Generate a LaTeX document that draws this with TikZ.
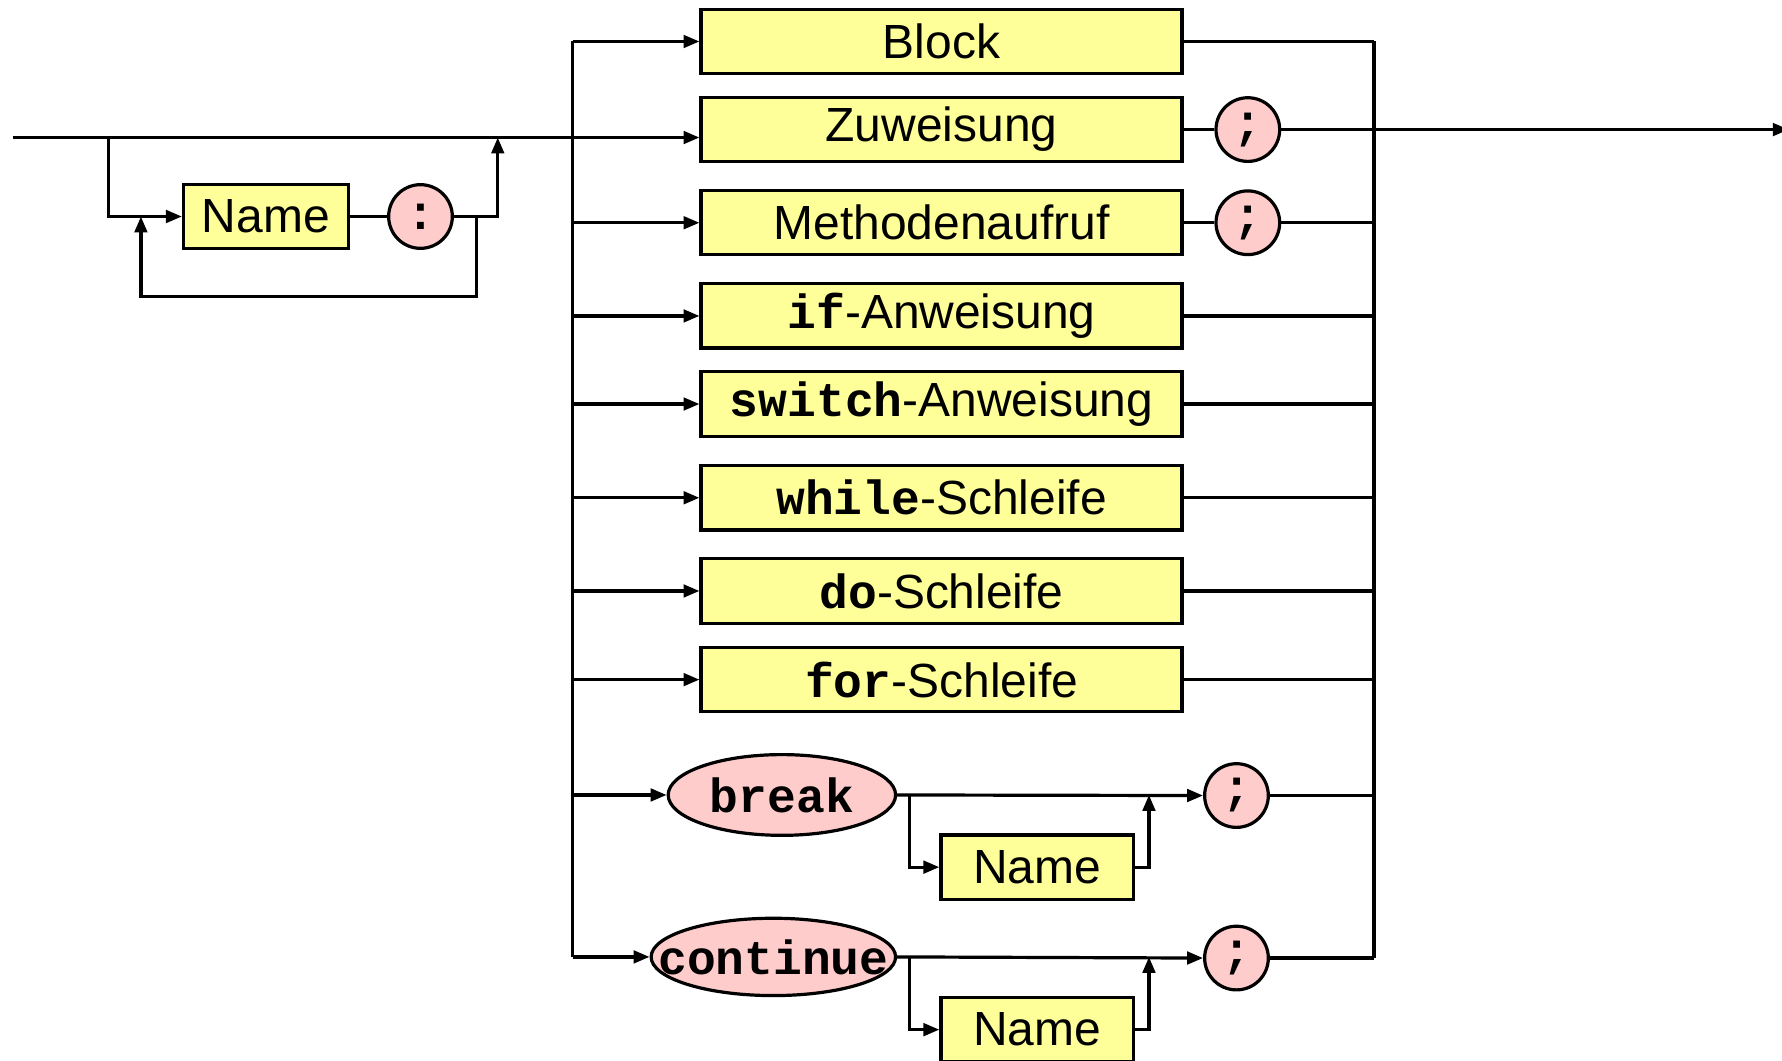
\documentclass[tikz,border=0pt]{standalone}
\usepackage{fontspec}
\setmainfont{Liberation Sans}
\setmonofont{Liberation Mono}
\usetikzlibrary{shapes.geometric,arrows.meta}
\definecolor{boxyellow}{HTML}{FFFF99}
\definecolor{termpink}{HTML}{FFCCCC}
\newcommand{\kw}[1]{{\ttfamily\bfseries #1}}
\begin{document}
\begin{tikzpicture}[x=0.01cm,y=-0.01cm,line width=0.8pt]
\tikzstyle{every node}+=[inner sep=0pt,font=\fontsize{12}{14}\selectfont]
\tikzstyle{nonterm}=[draw=black,fill=boxyellow,minimum height=0.565cm]
\tikzstyle{stmt}=[nonterm,minimum width=4.23cm]
\tikzstyle{term}=[draw=black,fill=termpink,ellipse]
\tikzstyle{punct}=[draw=black,fill=termpink,circle,minimum size=0.56cm,font=\fontsize{12}{14}\selectfont\ttfamily\bfseries]
\tikzstyle{arr}=[-{Triangle[length=0.14cm,width=0.11cm]}]
\useasboundingbox (0,0) rectangle (1568,933);
\node [stmt] (block) at (828.5,36.5) {Block};
\node [stmt] (zuw) at (828.5,114) {Zuweisung};
\node [stmt] (meth) at (828.5,196) {Methodenaufruf};
\node [stmt] (ifst) at (828.5,278) {\kw{if}-Anweisung};
\node [stmt] (switchst) at (828.5,355.5) {\kw{switch}-Anweisung};
\node [stmt] (whilest) at (828.5,438) {\kw{while}-Schleife};
\node [stmt] (dost) at (828.5,520) {\kw{do}-Schleife};
\node [stmt] (forst) at (828.5,598) {\kw{for}-Schleife};
\node [term,minimum width=2cm,minimum height=0.71cm,label=center:\kw{break}] (brk) at (688,699.5) {};
\node [term,minimum width=2.15cm,minimum height=0.68cm,label=center:\kw{continue}] (cont) at (680.5,842) {};
\node [nonterm,minimum width=1.45cm] (name1) at (234,190.5) {Name};
\node [punct] (colon) at (370,190.5) {:};
\node [nonterm,minimum width=1.69cm] (name2) at (912.5,763) {Name};
\node [nonterm,minimum width=1.69cm] (name3) at (912.5,906) {Name};
\node [punct] (semi1) at (1098,114) {;};
\node [punct] (semi2) at (1098,196) {;};
\node [punct] (semi3) at (1088,700) {;};
\node [punct] (semi4) at (1088,843) {;};
\coordinate (in) at (11,121);
\coordinate (out) at (1574,114);
\coordinate (split) at (95.6,121);
\coordinate (join) at (438,121);
\coordinate (loopr) at (419,261);
\coordinate (loopl) at (124,261);
\coordinate (lbus) at (504,36.5);
\coordinate (lbusend) at (504,842);
\coordinate (rbus) at (1209,36.5);
\coordinate (rbusend) at (1209,843);
\coordinate (bsplit) at (800,699.5);
\coordinate (bjoin) at (1011,699.5);
\coordinate (csplit) at (800,842);
\coordinate (cjoin) at (1011,842);
\draw [arr] (in) -- (zuw.west |- in);
\draw [arr] (split) |- (name1.west);
\draw (name1.east) -- (colon.west);
\draw [arr] (colon.east) -| (join);
\draw [arr] (colon.east -| loopr) -- (loopr) -- (loopl) -- (loopl |- name1);
\draw (lbus) -- (lbusend);
\draw [arr] (lbus) -- (block.west);
\draw [arr] (lbus |- meth) -- (meth.west);
\draw [arr] (lbus |- ifst) -- (ifst.west);
\draw [arr] (lbus |- switchst) -- (switchst.west);
\draw [arr] (lbus |- whilest) -- (whilest.west);
\draw [arr] (lbus |- dost) -- (dost.west);
\draw [arr] (lbus |- forst) -- (forst.west);
\draw [arr] (lbus |- brk) -- (brk.west);
\draw [arr] (lbusend) -- (cont.west);
\draw (block.east) -- (rbus);
\draw (zuw.east) -- (semi1.west);
\draw [arr] (semi1.east) -- (out);
\draw (meth.east) -- (semi2.west);
\draw (semi2.east) -- (rbus |- semi2);
\draw (ifst.east) -- (rbus |- ifst);
\draw (switchst.east) -- (rbus |- switchst);
\draw (whilest.east) -- (rbus |- whilest);
\draw (dost.east) -- (rbus |- dost);
\draw (forst.east) -- (rbus |- forst);
\draw [arr] (brk.east) -- (semi3.west);
\draw [arr] (bsplit) |- (name2.west);
\draw [arr] (name2.east) -| (bjoin);
\draw (semi3.east) -- (rbus |- semi3);
\draw [arr] (cont.east) -- (semi4.west);
\draw [arr] (csplit) |- (name3.west);
\draw [arr] (name3.east) -| (cjoin);
\draw (semi4.east) -- (rbusend);
\draw (rbus) -- (rbusend);
\end{tikzpicture}
\end{document}
